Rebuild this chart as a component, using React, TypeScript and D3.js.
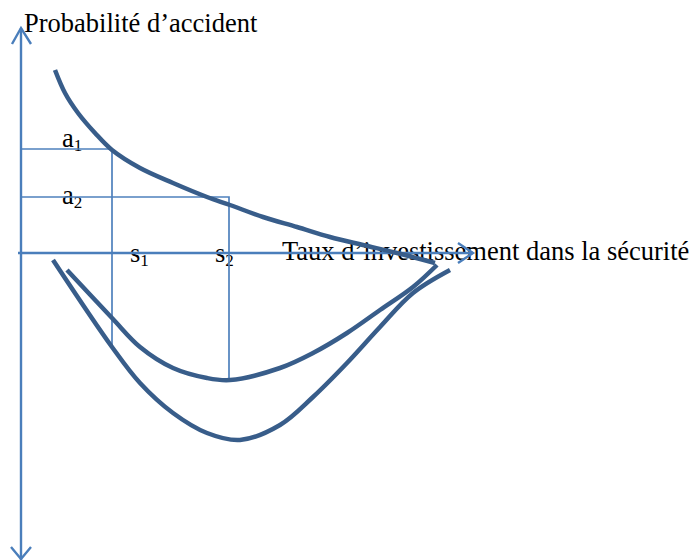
import { useRef, useEffect } from 'react';
import * as d3 from 'd3';

// units: distance from the axes' origin
const riskCurve: [number, number][] = [
  [34, 183], [44, 160], [57, 140], [74, 120], [91, 103], [119, 85], [152, 70],
  [186, 56], [209, 48], [242, 36], [276, 26], [309, 16], [342, 8],
  [376, 0], [414, -10],
];
const costCurve1: [number, number][] = [
  [46, -17], [91, -65], [119, -94], [152, -115], [186, -125], [209, -127],
  [259, -115], [292, -100], [326, -80], [359, -57], [392, -34], [416, -12],
];
const costCurve2: [number, number][] = [
  [32, -7], [91, -94], [119, -130], [152, -160], [186, -180], [219, -187],
  [259, -172], [292, -144], [326, -110], [359, -74], [392, -40], [429, -17],
];
// guide levels: s on the x axis, a on the y axis, and where the drop stops
const guides = [
  { s: 91, a: 104, bottom: -92, sLabel: '1', aLabel: '1' },
  { s: 208, a: 56, bottom: -127, sLabel: '2', aLabel: '2' },
];
const yLabel = 'Probabilité d’accident';
const xLabel = 'Taux d’investissement dans la sécurité';

const App = () => {
  const svgRef = useRef<SVGSVGElement>(null);

  useEffect(() => {
    if (!svgRef.current) return;
    const width = 693;
    const height = 560;
    const svg = d3.select(svgRef.current)
      .attr('width', width)
      .attr('height', height);
    svg.selectAll('*').remove();

    const x = d3.scaleLinear().domain([0, 452]).range([21, 473]);
    const y = d3.scaleLinear().domain([-307, 225]).range([560, 28]);

    const axisColor = '#4A7EBB';
    const curveColor = '#385D8A';
    const font = '"Liberation Serif", "Times New Roman", serif';

    // labels
    svg.append('text')
      .attr('x', 24).attr('y', 32)
      .attr('font-family', font).attr('font-size', 26.5)
      .text(yLabel);
    svg.append('text')
      .attr('x', 282).attr('y', 260)
      .attr('font-family', font).attr('font-size', 26.5)
      .text(xLabel);

    guides.forEach((g, i) => {
      const ta = svg.append('text')
        .attr('x', 62).attr('y', i === 0 ? y(g.a) - 2 : y(g.a) + 7)
        .attr('font-family', font).attr('font-size', 26.5);
      ta.append('tspan').text('a');
      ta.append('tspan').attr('font-size', 17).attr('dy', 4).text(g.aLabel);

      const ts = svg.append('text')
        .attr('x', x(g.s) + 18 - (i === 1 ? 32 : 0)).attr('y', y(0) + 9)
        .attr('font-family', font).attr('font-size', 26.5);
      ts.append('tspan').text('s');
      ts.append('tspan').attr('font-size', 17).attr('dy', 4).text(g.sLabel);
    });

    // guide lines
    const gl = svg.append('g')
      .attr('stroke', '#4F81BD').attr('stroke-width', 1.7).attr('fill', 'none');
    guides.forEach(g => {
      gl.append('path')
        .attr('d', `M${x(0)},${y(g.a)}H${x(g.s)}V${y(g.bottom)}`);
    });

    // axes with open arrowheads
    const ax = svg.append('g')
      .attr('stroke', axisColor).attr('stroke-width', 2.4).attr('fill', 'none');
    ax.append('line')
      .attr('x1', x(0)).attr('x2', x(0))
      .attr('y1', y.range()[1]).attr('y2', y.range()[0]);
    ax.append('line')
      .attr('x1', x(0) - 3).attr('x2', x.range()[1])
      .attr('y1', y(0)).attr('y2', y(0));
    const tipTop = [x(0), y.range()[1]];
    const tipBottom = [x(0), y.range()[0]];
    const tipRight = [x.range()[1], y(0)];
    ax.append('path')
      .attr('d', `M${tipTop[0] - 9},${tipTop[1] + 16}L${tipTop[0]},${tipTop[1]}L${tipTop[0] + 10},${tipTop[1] + 16}`);
    ax.append('path')
      .attr('d', `M${tipBottom[0] - 10},${tipBottom[1] - 13}L${tipBottom[0]},${tipBottom[1] - 1}L${tipBottom[0] + 10},${tipBottom[1] - 13}`);
    ax.append('path')
      .attr('d', `M${tipRight[0] - 15},${tipRight[1] - 10}L${tipRight[0]},${tipRight[1]}L${tipRight[0] - 15},${tipRight[1] + 10}`);

    // curves
    const line = d3.line<[number, number]>()
      .x(d => x(d[0]))
      .y(d => y(d[1]))
      .curve(d3.curveCatmullRom.alpha(0.5));
    svg.append('g')
      .attr('fill', 'none')
      .attr('stroke', curveColor)
      .attr('stroke-width', 4.5)
      .selectAll('path')
      .data([riskCurve, costCurve1, costCurve2])
      .join('path')
      .attr('d', d => line(d));

    return () => {
      svg.selectAll('*').remove();
    };
  }, []);

  return (
    <svg ref={svgRef} style={{ position: 'absolute', left: 0, top: 0, background: 'white' }} />
  );
};

export default App;
